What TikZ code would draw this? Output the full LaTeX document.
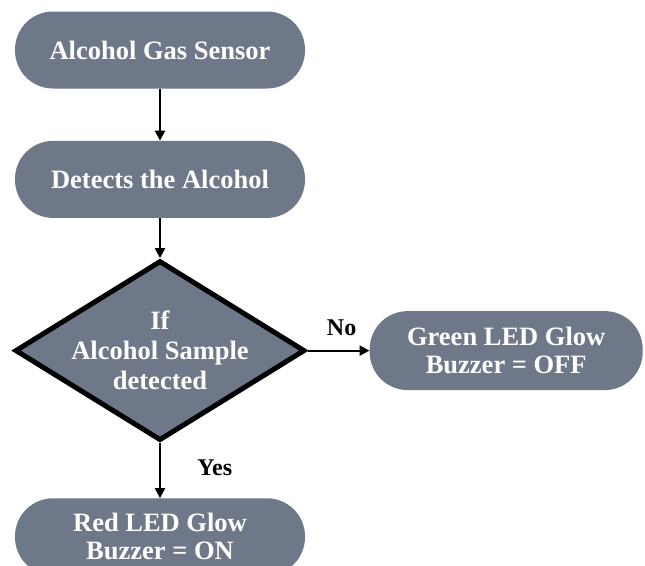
\documentclass[tikz,border=0pt]{standalone}
\usepackage{fontspec}
\setmainfont{Liberation Serif}
\usepackage{xcolor}
\usepackage{tikz}
\usetikzlibrary{arrows.meta,positioning,shapes.geometric}
\definecolor{Slate}{HTML}{6F7888}
\definecolor{Ink}{HTML}{000000}

\begin{document}
\begin{tikzpicture}[node distance=52pt and 62pt,>={Triangle[length=10pt,width=10pt]}]
\tikzset{flowbox/.style={rounded corners=38pt,minimum width=290pt,minimum height=77pt,align=center,fill=Slate,text=white,font=\fontsize{26.5}{28}\selectfont\bfseries}, decision/.style={diamond,draw=Ink,line width=5pt,fill=Slate,text=white,shape aspect=1.6,minimum width=290pt,minimum height=180pt,inner sep=-8pt,align=center,font=\fontsize{26.5}{30}\selectfont\bfseries}, arrow/.style={->,line width=2.2pt,Ink}, tag/.style={font=\fontsize{24}{26}\selectfont\bfseries,text=Ink}}
\useasboundingbox (0,0) rectangle (645pt,-565pt);
\node[flowbox] (sensor) at (160pt,-50pt) {Alcohol Gas Sensor};
\node[flowbox,below=of sensor] (detect) {Detects the Alcohol};
\node[decision,below=40pt of detect] (check) {If\\Alcohol Sample\\detected};
\node[flowbox,below=55pt of check] (red) {Red LED Glow\\Buzzer = ON};
\node[flowbox,right=of check,minimum width=273pt,minimum height=79pt] (green) {Green LED Glow\\Buzzer = OFF};
\draw[arrow] (sensor) -- (detect);
\draw[arrow] (detect) -- (check);
\draw[arrow] (check) -- node[tag,pos=0.45,right=33pt] {Yes} (red);
\draw[arrow] (check) -- node[tag,pos=0.55,above=10pt] {No} (green);
\end{tikzpicture}
\end{document}
